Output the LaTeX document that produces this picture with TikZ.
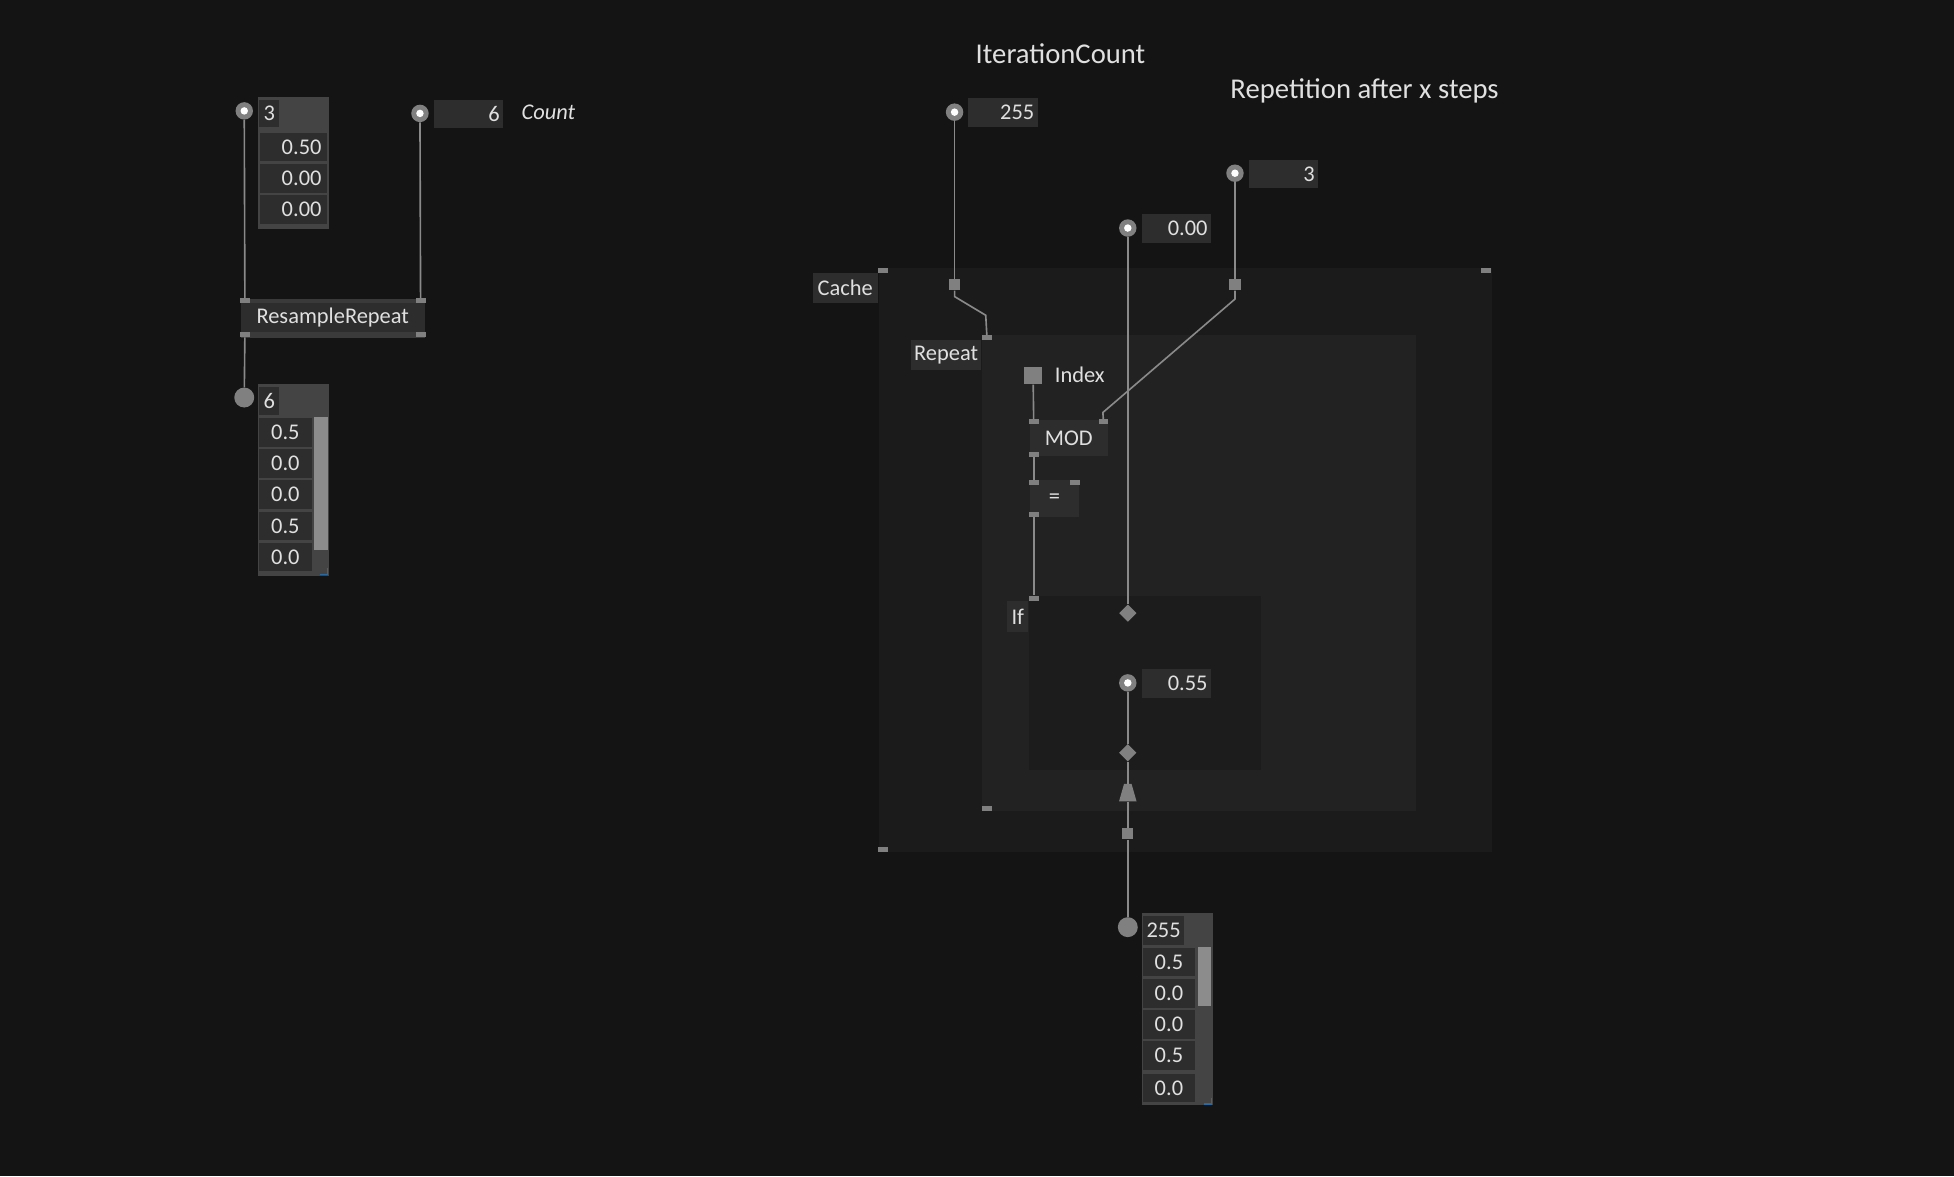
\documentclass[tikz,border=0pt]{standalone}
\usepackage{fontspec}
\setmainfont{Carlito}
\usetikzlibrary{shapes.geometric}
\definecolor{bg}{HTML}{141414}
\definecolor{cachebg}{HTML}{1B1B1B}
\definecolor{repbg}{HTML}{222222}
\definecolor{ifbg}{HTML}{1C1C1C}
\definecolor{cellc}{HTML}{2D2D2D}
\definecolor{hdr}{HTML}{444444}
\definecolor{frame}{HTML}{3A3A3A}
\definecolor{pinc}{HTML}{808080}
\definecolor{wire}{HTML}{8A8A8A}
\definecolor{txt}{HTML}{E0E0E0}
\definecolor{scroll}{HTML}{8C8C8C}
\definecolor{blu}{HTML}{2A6AA0}
\tikzset{
  lbl/.style={font=\fontsize{18}{20}\selectfont, text=txt},
  cellbox/.style={fill=cellc, lbl, inner sep=0, minimum height=23, minimum width=53},
  numr/.style={cellbox, align=right, text width=45},
  opnode/.style={fill=cellc, lbl, inner sep=0},
  wireln/.style={draw=wire, line width=1.3},
  pinsq/.style={fill=pinc, inner sep=0, minimum width=8, minimum height=4},
  bigsq/.style={fill=pinc, inner sep=0, minimum size=9},
  iopin/.style={circle, fill=pinc, inner sep=0, minimum size=14},
  outpin/.style={circle, fill=pinc, inner sep=0, minimum size=16},
  dia/.style={diamond, fill=pinc, inner sep=0, minimum size=14},
  title/.style={font=\fontsize{23}{26}\selectfont, text=txt},
}
\newcommand{\iodot}[2]{\node[iopin] (#1) at #2 {}; \fill[white] #2 circle (3);}
\begin{document}
\begin{tikzpicture}[x=1pt,y=-1pt]
\fill[bg] (0,0) rectangle (1568,944);
\useasboundingbox (0,0) rectangle (1568,944);

% ---------- left: input spread ----------
\fill[hdr] (207,78) rectangle (264,184);
\node[cellbox, minimum width=16, minimum height=22, anchor=north west] (h3) at (208,80) {3};
\node[numr] (a1) at (235.5,118) {0.50};
\node[numr] (a2) at (235.5,143) {0.00};
\node[numr] (a3) at (235.5,168) {0.00};
\iodot{p1}{(196,89)}

\node[cellbox, minimum width=56, align=right, text width=50] (cnt) at (376,91.5) {6};
\node[lbl, font=\fontsize{18}{20}\selectfont\itshape, anchor=west] (cntl) at (415,90) {Count};
\iodot{p2}{(337,91)}

% ResampleRepeat
\fill[frame] (193,240) rectangle (341,271);
\node[opnode, minimum width=148, minimum height=23] (rr) at (267,255) {ResampleRepeat};
\node[pinsq] (rr1) at (196.5,241.5) {};
\node[pinsq] (rr2) at (337.5,241.5) {};
\node[pinsq] (rr3) at (196.5,268.5) {};
\node[pinsq] at (337.5,268.5) {};
\draw[wireln] (p1) -- (rr1);
\draw[wireln] (p2) -- (rr2);

% output spread
\fill[hdr] (207,308) rectangle (264,462);
\node[cellbox, minimum width=16, minimum height=23, anchor=north west] (h6) at (208,310) {6};
\node[cellbox, minimum width=42] (b1) at (229,347) {0.5};
\node[cellbox, minimum width=42] (b2) at (229,372) {0.0};
\node[cellbox, minimum width=42] (b3) at (229,397) {0.0};
\node[cellbox, minimum width=42] (b4) at (229,422) {0.5};
\node[cellbox, minimum width=42] (b5) at (229,447) {0.0};
\fill[scroll] (252,335) rectangle (263,441);
\draw[blu, line width=1] (257,461) -- (263,461) -- (263,456);
\node[outpin] (o1) at (196,319) {};
\draw[wireln] (rr3) -- (o1);

% ---------- right ----------
\node[title] (t1) at (851,43) {IterationCount};
\node[title] (t2) at (1095,73) {Repetition after x steps};

\node[cellbox, minimum width=56, align=right, text width=50] (v255) at (805,90.5) {255};
\iodot{q1}{(766,90)}
\node[cellbox, minimum width=56, align=right, text width=50] (v3) at (1030,139.5) {3};
\iodot{q2}{(991,139)}
\node[cellbox, minimum width=56, align=right, text width=50] (v0) at (944,183.5) {0.00};
\iodot{q3}{(905,183)}

% Cache region
\fill[cachebg] (705,215) rectangle (1197,684);
\node[opnode, minimum width=52, minimum height=24, anchor=north west] (cache) at (652,219) {Cache};
\node[pinsq] at (708.5,217) {};
\node[pinsq] at (1192.5,217) {};
\node[pinsq] at (708.5,682) {};
% Repeat region
\fill[repbg] (788,269) rectangle (1136,651);
\node[opnode, minimum width=56, minimum height=24, anchor=north west] (rep) at (731,273) {Repeat};
\node[pinsq] (rp) at (792,271) {};
\node[pinsq] at (792,649) {};
% If region
\fill[ifbg] (826,478) rectangle (1012,618);
\node[opnode, minimum width=17, minimum height=25, anchor=north west] (iflbl) at (808,482) {If};
\node[pinsq] (ifp) at (829.5,480) {};

\node[bigsq] (s1) at (766,228.5) {};
\node[bigsq] (s2) at (991,228.5) {};
\draw[wireln] (q1) -- (s1);
\draw[wireln] (q2) -- (s2);
\draw[wireln] (s1) -- (766,238) -- (791,253) -- (rp);

\node[fill=pinc, inner sep=0, minimum size=14] (idx) at (829,301.5) {};
\node[lbl, anchor=west] (idxl) at (843,301) {Index};

\node[opnode, minimum width=63, minimum height=29, anchor=north west] (mod) at (826,337) {MOD};
\node[pinsq] (m1) at (829.5,338.5) {};
\node[pinsq] (m2) at (885.5,338.5) {};
\node[pinsq] (m3) at (829.5,364.5) {};
\draw[wireln] (s2) -- (991,240) -- (885,331) -- (m2);
\draw[wireln] (idx) -- (m1);

\node[opnode, minimum width=40, minimum height=30, anchor=north west] (eq) at (826,385) {=};
\node[pinsq] (e1) at (829.5,387) {};
\node[pinsq] at (862.5,387) {};
\node[pinsq] (e3) at (829.5,413) {};
\draw[wireln] (m3) -- (e1);
\draw[wireln] (e3) -- (ifp);

\node[dia] (d1) at (905,492) {};
\draw[wireln] (q3) -- (d1);

\node[cellbox, minimum width=56, align=right, text width=50] (v55) at (944,548.5) {0.55};
\iodot{q4}{(905,548)}
\node[dia] (d2) at (905,604) {};
\draw[wireln] (q4) -- (d2);
\node[inner sep=0, minimum width=14, minimum height=14] (tz) at (905,636) {};
\fill[pinc] (902,629) -- (908,629) -- (912,643) -- (898,643) -- cycle;
\draw[wireln] (d2) -- (tz);
\node[bigsq] (s3) at (905,669) {};
\draw[wireln] (tz) -- (s3);
\node[outpin] (o2) at (905,744) {};
\draw[wireln] (s3) -- (o2);

% output spread 2
\fill[hdr] (916,733) rectangle (973,887);
\node[cellbox, minimum width=33, minimum height=23, anchor=north west] (h255) at (917,735) {255};
\node[cellbox, minimum width=42] (c1) at (938,772) {0.5};
\node[cellbox, minimum width=42] (c2) at (938,797) {0.0};
\node[cellbox, minimum width=42] (c3) at (938,822) {0.0};
\node[cellbox, minimum width=42] (c4) at (938,847) {0.5};
\node[cellbox, minimum width=42] (c5) at (938,873) {0.0};
\fill[scroll] (961,760) rectangle (972,807);
\draw[blu, line width=1] (966,886) -- (972,886) -- (972,881);
\end{tikzpicture}
\end{document}
